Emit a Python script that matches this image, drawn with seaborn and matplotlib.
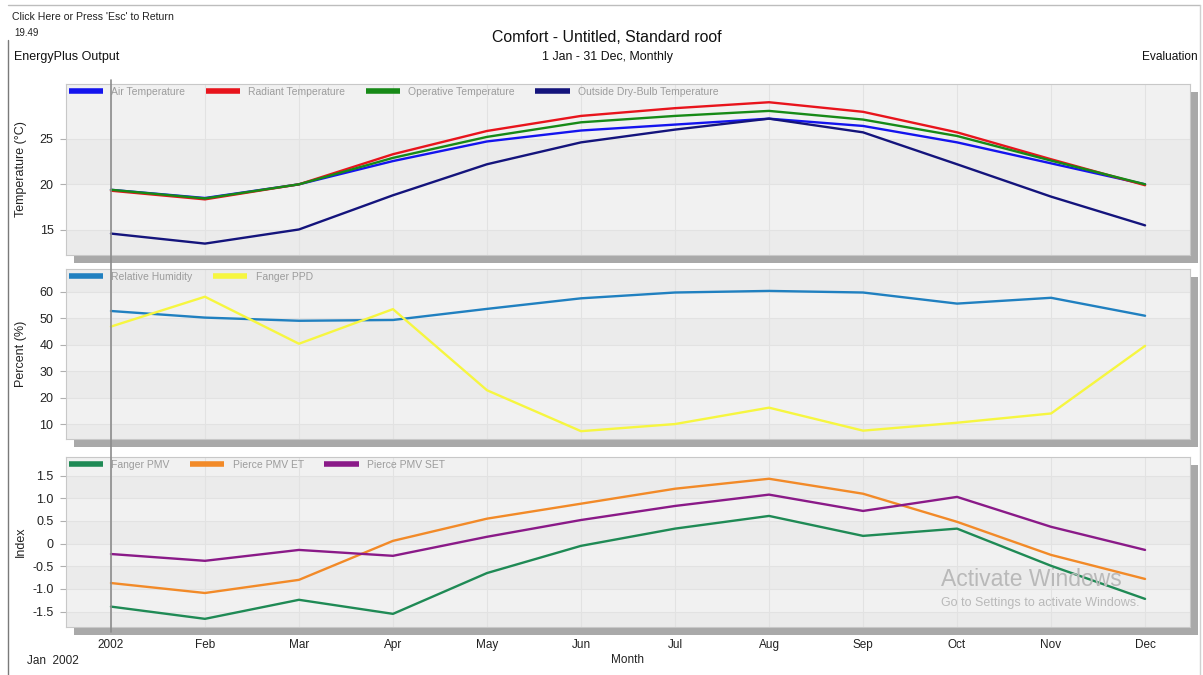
import numpy as np
import pandas as pd
import matplotlib
matplotlib.use("Agg")
import matplotlib.pyplot as plt
import matplotlib.transforms as mtransforms
from matplotlib.patches import Rectangle
from matplotlib.lines import Line2D
import seaborn as sns

# ---- data -------------------------------------------------------------
months = ["2002", "Feb", "Mar", "Apr", "May", "Jun",
          "Jul", "Aug", "Sep", "Oct", "Nov", "Dec"]

air_temp = [19.4, 18.5, 20.0, 22.55, 24.7, 25.9, 26.55, 27.2, 26.4, 24.6, 22.3, 20.0]
radiant_temp = [19.3, 18.35, 20.0, 23.3, 25.85, 27.5, 28.35, 29.0, 27.95, 25.7, 22.75, 19.9]
operative_temp = [19.4, 18.45, 20.0, 22.9, 25.2, 26.8, 27.5, 28.05, 27.1, 25.3, 22.6, 20.0]
outside_temp = [14.6, 13.5, 15.05, 18.8, 22.2, 24.6, 26.0, 27.2, 25.7, 22.2, 18.65, 15.5]

rel_humidity = [52.8, 50.3, 49.1, 49.4, 53.6, 57.6, 59.8, 60.4, 59.8, 55.6, 57.8, 51.0]
fanger_ppd = [46.9, 58.2, 40.4, 53.5, 22.8, 7.3, 10.0, 16.2, 7.5, 10.5, 14.0, 39.6]

fanger_pmv = [-1.39, -1.66, -1.24, -1.55, -0.65, -0.05, 0.33, 0.61, 0.17, 0.33, -0.49, -1.22]
pierce_et = [-0.87, -1.09, -0.80, 0.06, 0.55, 0.88, 1.21, 1.43, 1.10, 0.48, -0.25, -0.78]
pierce_set = [-0.23, -0.38, -0.14, -0.27, 0.15, 0.52, 0.83, 1.08, 0.72, 1.03, 0.37, -0.14]

temp_ticks = [15, 20, 25]
temp_labels = ["15", "20", "25"]
pct_ticks = [10, 20, 30, 40, 50, 60]
pct_labels = ["10", "20", "30", "40", "50", "60"]
idx_ticks = [-1.5, -1.0, -0.5, 0.0, 0.5, 1.0, 1.5]
idx_labels = ["-1.5", "-1.0", "-0.5", "0", "0.5", "1.0", "1.5"]

# ---- style ------------------------------------------------------------
sns.set_theme(style="white")
plt.rcParams["font.family"] = ["Liberation Sans", "DejaVu Sans"]

W, H = 1203, 675
fig = plt.figure(figsize=(W / 100, H / 100), dpi=100, facecolor="white")


def box(left, top, right, bottom):
    return [left / W, 1 - bottom / H, (right - left) / W, (bottom - top) / H]


def shadow(left, top, right, bottom, off=8):
    fig.add_artist(Rectangle(((left + off) / W, 1 - (bottom + off) / H),
                             (right - left) / W, (bottom - top) / H,
                             transform=fig.transFigure, facecolor="#a9a9a9",
                             edgecolor="none", zorder=-1))


def panel(rect, series, names, colors, ticks, labels, ylim, ylabel, show_x):
    shadow(*rect)
    ax = fig.add_axes(box(*rect))
    ax.set_facecolor("#eeeeee")
    # alternating horizontal bands between ticks
    edges = [ylim[0]] + list(ticks) + [ylim[1]]
    for i in range(len(edges) - 1):
        ax.axhspan(edges[i], edges[i + 1],
                   color="#f1f1f1" if i % 2 else "#ebebeb", zorder=0, lw=0)
    for t in ticks:
        ax.axhline(t, color="#e2e2e2", lw=0.8, zorder=0.5)
    for i in range(len(months)):
        ax.axvline(i, color="#e2e2e2", lw=0.8, zorder=0.5)

    df = pd.DataFrame({
        "month": np.tile(np.arange(len(months)), len(series)),
        "value": np.concatenate([np.asarray(s, float) for s in series]),
        "series": np.repeat(names, len(months)),
    })
    sns.lineplot(data=df, x="month", y="value", hue="series", hue_order=names,
                 palette=dict(zip(names, colors)), lw=1.7, legend=False,
                 sort=False, ax=ax, zorder=3)

    ax.set_xlim(-0.478, 11.478)
    ax.set_ylim(*ylim)
    ax.set_yticks(ticks)
    ax.set_yticklabels(labels, fontsize=9, color="#222222")
    ax.set_xticks(range(len(months)))
    if show_x:
        ax.set_xticklabels(months, fontsize=8.5, color="#222222", va="baseline")
    else:
        ax.set_xticklabels([])
    ax.tick_params(axis="y", length=4, width=0.8, color="#b0b0b0", pad=5, left=True)
    ax.tick_params(axis="x", length=0, pad=15)
    ax.set_xlabel("")
    ax.set_ylabel(ylabel, fontsize=9, color="#222222", labelpad=6)
    for s in ax.spines.values():
        s.set_color("#c8c8c8")
        s.set_linewidth(0.8)

    handles = [Line2D([], [], color=c, lw=4.0, solid_capstyle="butt") for c in colors]
    leg = ax.legend(handles, names, loc="upper left", bbox_to_anchor=(0.0, 1.0),
                    ncol=len(names), frameon=False, fontsize=7.5,
                    handlelength=3.3, handletextpad=0.8, columnspacing=1.95,
                    borderpad=0.15, borderaxespad=0.1, labelcolor="#9c9c9c")
    leg.set_zorder(4)
    return ax


ax1 = panel((66, 84, 1190, 255),
            [air_temp, radiant_temp, operative_temp, outside_temp],
            ["Air Temperature", "Radiant Temperature", "Operative Temperature",
             "Outside Dry-Bulb Temperature"],
            ["#1414ee", "#e8141c", "#178a17", "#14147c"],
            temp_ticks, temp_labels, (12.25, 31.0), "Temperature (°C)", False)

ax2 = panel((66, 269, 1190, 439),
            [rel_humidity, fanger_ppd],
            ["Relative Humidity", "Fanger PPD"],
            ["#2080c0", "#f6f640"],
            pct_ticks, pct_labels, (4.34, 68.7), "Percent (%)", False)

ax3 = panel((66, 457, 1190, 627),
            [fanger_pmv, pierce_et, pierce_set],
            ["Fanger PMV", "Pierce PMV ET", "Pierce PMV SET"],
            ["#1f8a55", "#f28a28", "#8a1a88"],
            idx_ticks, idx_labels, (-1.84, 1.91), "Index", True)

for ax in (ax1, ax2, ax3):
    ax.yaxis.set_label_coords(-0.035, 0.5)

# cursor line at the first month, running through all three panels
trans = mtransforms.blended_transform_factory(ax3.transData, fig.transFigure)
fig.add_artist(Line2D([0, 0], [1 - 80 / H, 1 - 632 / H], transform=trans,
                      color="#8c8c8c", lw=1.2, zorder=5))

# ---- header / footer text --------------------------------------------
def ftext(x, y, s, **kw):
    fig.text(x / W, 1 - y / H, s, va="center", **kw)

ftext(12, 17, "Click Here or Press 'Esc' to Return", fontsize=7.6, color="#222222")
ftext(14, 33, "19.49", fontsize=7, color="#222222")
ftext(14, 57, "EnergyPlus Output", fontsize=9, color="#111111")
ftext(607, 38, "Comfort - Untitled, Standard roof", fontsize=11.4, ha="center", color="#111111")
ftext(607, 57, "1 Jan - 31 Dec, Monthly", fontsize=8.9, ha="center", color="#111111")
ftext(1198, 57, "Evaluation", fontsize=8.6, ha="right", color="#111111")
ftext(628, 660, "Month", fontsize=8.5, ha="center", color="#222222")
ftext(27, 661, "Jan  2002", fontsize=8.5, color="#222222")

ftext(941, 580, "Activate Windows", fontsize=16.5, color="#b9b9b9", zorder=6)
ftext(941, 603, "Go to Settings to activate Windows.", fontsize=9, color="#b9b9b9", zorder=6)

# window frame
fig.add_artist(Line2D([8 / W, 1200 / W], [1 - 5 / H, 1 - 5 / H],
                      transform=fig.transFigure, color="#bdbdbd", lw=1))
fig.add_artist(Line2D([8 / W, 8 / W], [1 - 40 / H, 0],
                      transform=fig.transFigure, color="#7a7a7a", lw=1))
fig.add_artist(Line2D([1200 / W, 1200 / W], [1 - 5 / H, 0],
                      transform=fig.transFigure, color="#d0d0d0", lw=1))

fig.savefig("out.png", dpi=100, facecolor="white")
